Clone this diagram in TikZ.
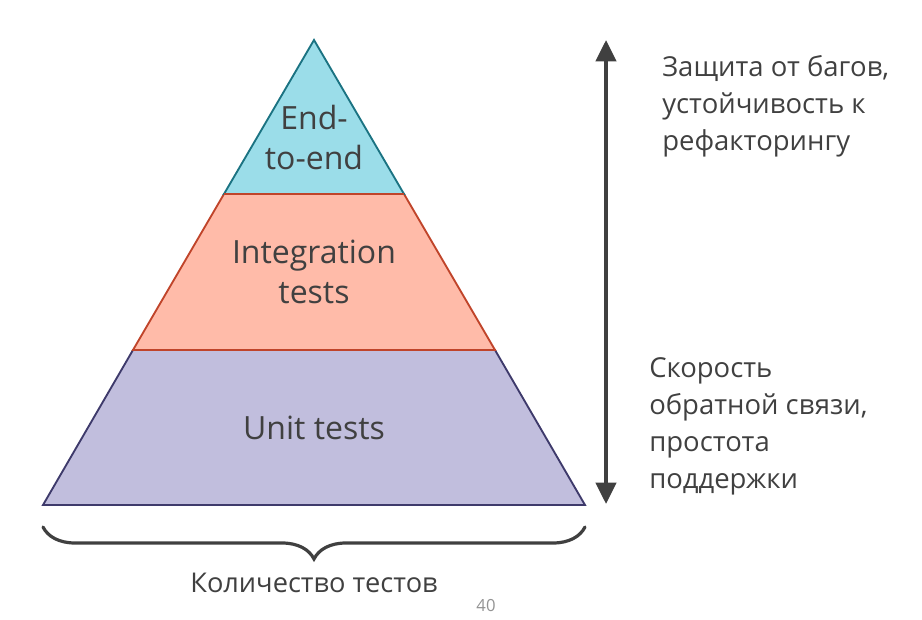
\documentclass[tikz,border=0pt]{standalone}
\usepackage{fontspec}
\setmainfont{Open Sans}
\usetikzlibrary{arrows.meta,decorations.pathreplacing}
\definecolor{txt}{HTML}{404040}
\definecolor{topfill}{HTML}{9BDDE9}
\definecolor{topline}{HTML}{1B7382}
\definecolor{midfill}{HTML}{FFBBA9}
\definecolor{midline}{HTML}{C0442A}
\definecolor{botfill}{HTML}{C1BEDD}
\definecolor{botline}{HTML}{3E3A6B}
\tikzset{
  layer/.style={line width=1.4pt, line join=miter},
  lbl/.style={text=txt, font=\fontsize{24}{30}\selectfont, align=center},
  side/.style={text=txt, font=\fontsize{20.6}{27.9}\selectfont, align=left, anchor=north west, inner sep=0pt},
}
\begin{document}
\begin{tikzpicture}[x=0.75pt,y=-0.75pt]
\useasboundingbox (0,0) rectangle (922,620);
% layers
\coordinate (apex) at (314,40);
\coordinate (tl) at (224,194);
\coordinate (tr) at (404,194);
\coordinate (ml) at (133,350);
\coordinate (mr) at (495,350);
\coordinate (bl) at (43,505);
\coordinate (br) at (585,505);
\filldraw[layer, fill=botfill, draw=botline] (ml) -- (mr) -- (br) -- (bl) -- cycle;
\filldraw[layer, fill=midfill, draw=midline] (tl) -- (tr) -- (mr) -- (ml) -- cycle;
\filldraw[layer, fill=topfill, draw=topline] (apex) -- (tr) -- (tl) -- cycle;
\draw[layer, draw=midline] (tl) -- (tr);
\node[lbl] (e2e) at (314,138) {End-\\to-end};
\node[lbl] (integ) at (314,272) {Integration\\tests};
\node[lbl] (unit) at (314,428) {Unit tests};
% arrow
\coordinate (atop) at (606,40);
\coordinate (abot) at (606,504);
\draw[line width=3pt, color=txt, {Triangle[length=16pt,width=15pt]}-{Triangle[length=16pt,width=15pt]}] (atop) -- (abot);
\node[side] (up) at (662,55) {Защита от багов,\\устойчивость к\\рефакторингу};
\node[side] (down) at (649,357) {Скорость\\обратной связи,\\простота\\поддержки};
% brace
\coordinate (b1) at (43,527);
\coordinate (b2) at (585,527);
\draw[line width=2.4pt, color=txt, line cap=round, decorate, decoration={brace, mirror, amplitude=24pt, aspect=0.5}] (b1) -- (b2);
\node[text=txt, font=\fontsize{20.4}{24}\selectfont] (count) at (314,583) {Количество тестов};
\node[text=gray!85, font=\fontsize{12.5}{14}\selectfont] (pg) at (486,606) {40};
\end{tikzpicture}
\end{document}
